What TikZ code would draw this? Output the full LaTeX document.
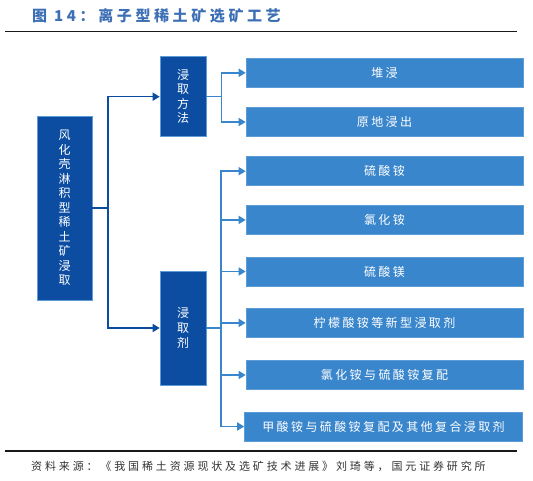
\documentclass[tikz,border=0pt]{standalone}
\usepackage{fontspec}
\newfontfamily\cjk{Noto Sans CJK SC}
\newfontfamily\cjksp[LetterSpace=20]{Noto Sans CJK SC}
\newfontfamily\cjkft[LetterSpace=26]{Noto Sans CJK SC}
\newfontfamily\cjktt[LetterSpace=24]{Noto Sans CJK SC}
\usetikzlibrary{arrows.meta}
\definecolor{dkblue}{HTML}{0C4DA2}
\definecolor{ltblue}{HTML}{3A86CC}
\definecolor{ltedge}{HTML}{5E9CD8}
\definecolor{ttblue}{HTML}{3D6FB5}
\definecolor{ftgrey}{HTML}{333333}
\tikzset{
  dkbox/.style={fill=dkblue, draw=ltedge, line width=0.6pt, text=white, inner sep=0pt, align=center},
  ltbox/.style={fill=ltblue, draw=ltedge, line width=0.6pt, text=white, inner sep=0pt,
    minimum height=29pt, font=\cjksp\fontsize{12}{14}\selectfont},
  dkline/.style={draw=dkblue, line width=1.5pt},
  ltline/.style={draw=ltblue, line width=1.5pt},
  tip/.style={-{Triangle[length=7pt,width=8pt]}},
  rule/.style={draw=black!90, line width=1.8pt}
}
\begin{document}
\begin{tikzpicture}[x=1pt,y=-1pt]
\useasboundingbox (0,0) rectangle (533,480);
% title
\node[anchor=west, text=ttblue, font=\cjktt\bfseries\fontsize{15}{18}\selectfont, inner sep=0pt] (title) at (32,16) {图 14：离子型稀土矿选矿工艺};
\coordinate (r1a) at (5,31.5);
\coordinate (r1b) at (517,31.5);
\draw[rule] (r1a) -- (r1b);
% root
\node[dkbox, minimum width=55pt, minimum height=184pt, font=\cjk\fontsize{12}{14.5}\selectfont] (root) at (64.5,208) {风\\化\\壳\\淋\\积\\型\\稀\\土\\矿\\浸\\取};
% middle
\node[dkbox, minimum width=46pt, minimum height=80pt, font=\cjk\fontsize{12}{14.4}\selectfont] (m1) at (183,96.7) {浸\\取\\方\\法};
\node[dkbox, minimum width=46pt, minimum height=114pt, font=\cjk\fontsize{12}{15}\selectfont] (m2) at (183,328) {浸\\取\\剂};
% right boxes
\node[ltbox, minimum width=277pt] (b1) at (384.5,72.8) {堆浸};
\node[ltbox, minimum width=277pt] (b2) at (384.5,122) {原地浸出};
\node[ltbox, minimum width=277pt] (b3) at (384.5,171.2) {硫酸铵};
\node[ltbox, minimum width=277pt] (b4) at (384.5,219.9) {氯化铵};
\node[ltbox, minimum width=277pt] (b5) at (384.5,271.5) {硫酸镁};
\node[ltbox, minimum width=277pt] (b6) at (384.5,322.9) {柠檬酸铵等新型浸取剂};
\node[ltbox, minimum width=277pt] (b7) at (384.5,375) {氯化铵与硫酸铵复配};
\node[ltbox, minimum width=278pt] (b8) at (383.5,426.5) {甲酸铵与硫酸铵复配及其他复合浸取剂};
% connectors
\coordinate (j1) at (108,208);
\draw[dkline] (root.east) -- (j1);
\draw[dkline, tip] (j1) |- (m1.west);
\draw[dkline, tip] (j1) |- (m2.west);
\coordinate (j2) at (221.5,96.7);
\draw[ltline] (m1.east) -- (j2);
\draw[ltline, tip] (j2) |- (b1.west);
\draw[ltline, tip] (j2) |- (b2.west);
\coordinate (j3) at (221,328);
\draw[ltline] (m2.east) -- (j3);
\foreach \b in {b3,b4,b5,b6,b7,b8} {\draw[ltline, tip] (j3) |- (\b.west);}
% footer
\coordinate (r2a) at (5,451);
\coordinate (r2b) at (517,451);
\draw[rule] (r2a) -- (r2b);
\node[text=ftgrey, font=\cjkft\fontsize{11}{13}\selectfont, inner sep=0pt, anchor=west] (src) at (31,466) {资料来源：《我国稀土资源现状及选矿技术进展》刘琦等，国元证券研究所};
\end{tikzpicture}
\end{document}
